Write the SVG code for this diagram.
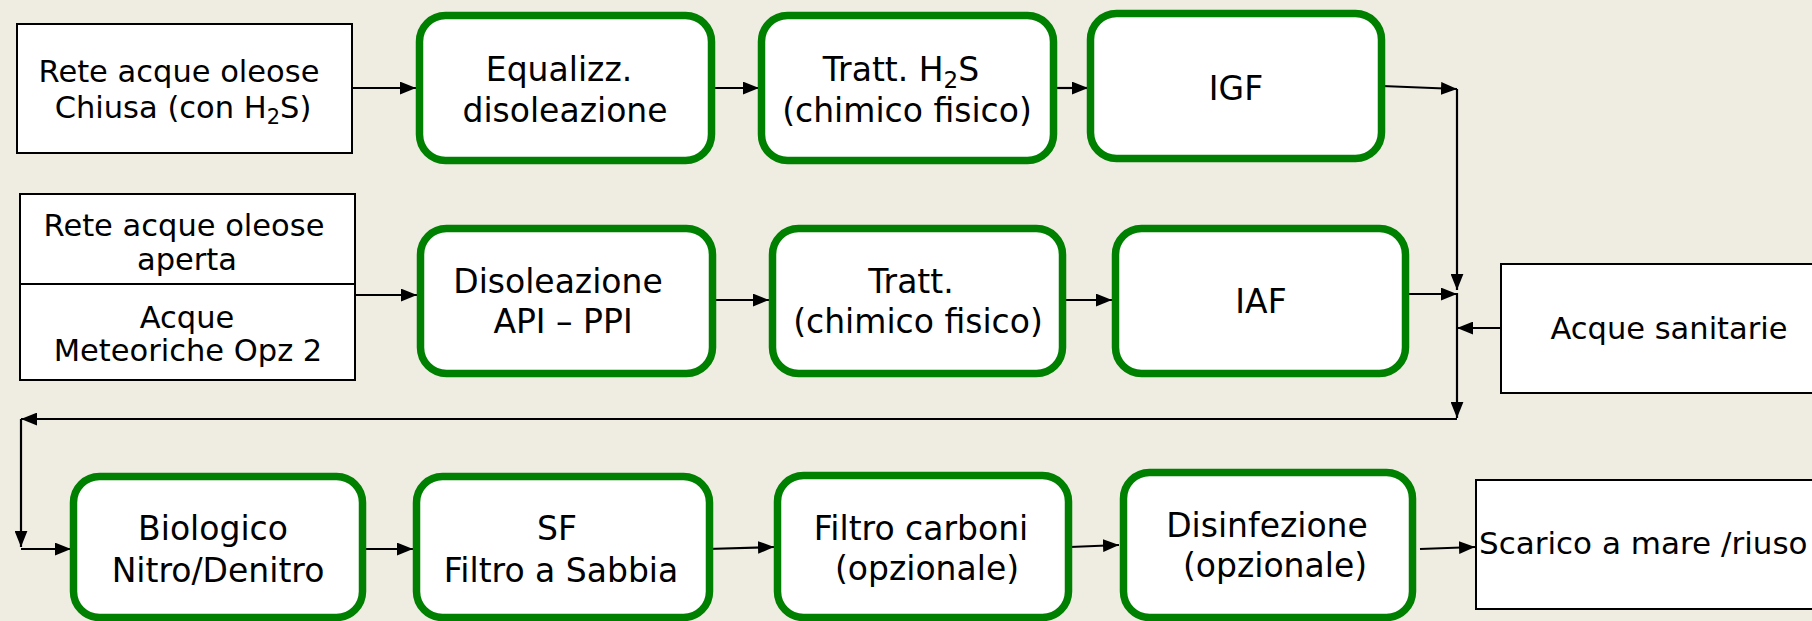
<svg xmlns="http://www.w3.org/2000/svg" width="1812" height="621" viewBox="0 0 1812 621">
  <style>
    .bg { fill: #EFEDE1; }
    .src { fill: #FFFFFF; stroke: #000000; stroke-width: 2; }
    .step { fill: #FFFFFF; stroke: #008000; stroke-width: 7.5; }
    .lbl { font-family: "DejaVu Sans", Verdana, sans-serif; fill: #000000; text-anchor: middle; }
    .s30 { font-size: 30.5px; }
    .s33 { font-size: 33px; }
    .conn { fill: none; stroke: #000000; stroke-width: 2.2; marker-end: url(#arrow); }
  </style>
  <defs>
    <marker id="arrow" viewBox="0 0 15 12" refX="15" refY="6" markerWidth="16" markerHeight="13" markerUnits="userSpaceOnUse" orient="auto">
      <path d="M0,0 L15,6 L0,12 z" fill="#000000"/>
    </marker>
  </defs>

  <rect class="bg" x="0" y="0" width="1812" height="621"/>

  <!-- connectors -->
  <g id="connectors">
    <path class="conn" d="M352,88 L416,88"/>
    <path class="conn" d="M715,88 L759,88"/>
    <path class="conn" d="M1057,88 L1088,88"/>
    <path class="conn" d="M1382,86 L1457,89"/>
    <path class="conn" d="M1457,89 L1457,290"/>
    <path class="conn" d="M355,295 L417,295"/>
    <path class="conn" d="M716,300 L769,300"/>
    <path class="conn" d="M1066,300 L1112,300"/>
    <path class="conn" d="M1399,294 L1457,294"/>
    <path class="conn" d="M1501,328 L1457,328"/>
    <path class="conn" d="M1457,293 L1457,418"/>
    <path class="conn" d="M1457,419 L21,419"/>
    <path class="conn" d="M21,419 L21,547"/>
    <path class="conn" d="M21,549 L71,549"/>
    <path class="conn" d="M366,549 L413,549"/>
    <path class="conn" d="M707,549 L774,547"/>
    <path class="conn" d="M1070,547 L1119,545"/>
    <path class="conn" d="M1420,549 L1475,547"/>
  </g>

  <!-- row 1 -->
  <g id="rete-chiusa">
    <rect class="src" x="17" y="24" width="335" height="129"/>
    <text class="lbl s30" x="179" y="82">Rete acque oleose</text>
    <text class="lbl s30" x="183" y="118">Chiusa (con H<tspan font-size="21" dy="6">2</tspan><tspan dy="-6">S)</tspan></text>
  </g>
  <g id="equalizzazione">
    <rect class="step" x="419.5" y="15.5" width="292" height="145" rx="26"/>
    <text class="lbl s33" x="559" y="81">Equalizz.</text>
    <text class="lbl s33" x="565" y="122">disoleazione</text>
  </g>
  <g id="tratt-h2s">
    <rect class="step" x="761.5" y="15.5" width="292" height="145" rx="26"/>
    <text class="lbl s33" x="901" y="81">Tratt. H<tspan font-size="23" dy="7">2</tspan><tspan dy="-7">S</tspan></text>
    <text class="lbl s33" x="907" y="122">(chimico fisico)</text>
  </g>
  <g id="igf">
    <rect class="step" x="1090.5" y="13.5" width="291" height="145" rx="26"/>
    <text class="lbl s33" x="1236" y="100">IGF</text>
  </g>

  <!-- row 2 -->
  <g id="rete-aperta">
    <rect class="src" x="20" y="194" width="335" height="186"/>
    <line x1="20" y1="284" x2="355" y2="284" stroke="#000000" stroke-width="2"/>
    <text class="lbl s30" x="184" y="236">Rete acque oleose</text>
    <text class="lbl s30" x="187" y="270">aperta</text>
    <text class="lbl s30" x="187" y="328">Acque</text>
    <text class="lbl s30" x="188" y="361">Meteoriche Opz 2</text>
  </g>
  <g id="disoleazione">
    <rect class="step" x="420.5" y="228.5" width="292" height="145" rx="26"/>
    <text class="lbl s33" x="558" y="293">Disoleazione</text>
    <text class="lbl s33" x="563" y="333">API – PPI</text>
  </g>
  <g id="tratt-cf">
    <rect class="step" x="772.5" y="228.5" width="290" height="145" rx="26"/>
    <text class="lbl s33" x="911" y="293">Tratt.</text>
    <text class="lbl s33" x="918" y="333">(chimico fisico)</text>
  </g>
  <g id="iaf">
    <rect class="step" x="1115.5" y="228.5" width="290" height="145" rx="26"/>
    <text class="lbl s33" x="1261" y="313">IAF</text>
  </g>
  <g id="acque-sanitarie">
    <rect class="src" x="1501" y="264" width="320" height="129"/>
    <text class="lbl s30" x="1669" y="339">Acque sanitarie</text>
  </g>

  <!-- row 3 -->
  <g id="biologico">
    <rect class="step" x="73.5" y="476.5" width="289" height="141" rx="26"/>
    <text class="lbl s33" x="213" y="540">Biologico</text>
    <text class="lbl s33" x="218" y="582">Nitro/Denitro</text>
  </g>
  <g id="filtro-sabbia">
    <rect class="step" x="416.5" y="476.5" width="293" height="141" rx="26"/>
    <text class="lbl s33" x="557" y="540">SF</text>
    <text class="lbl s33" x="561" y="582">Filtro a Sabbia</text>
  </g>
  <g id="filtro-carboni">
    <rect class="step" x="777.5" y="475.5" width="291" height="142" rx="26"/>
    <text class="lbl s33" x="921" y="540">Filtro carboni</text>
    <text class="lbl s33" x="927" y="580">(opzionale)</text>
  </g>
  <g id="disinfezione">
    <rect class="step" x="1123.5" y="472.5" width="289" height="145" rx="26"/>
    <text class="lbl s33" x="1267" y="537">Disinfezione</text>
    <text class="lbl s33" x="1275" y="577">(opzionale)</text>
  </g>
  <g id="scarico">
    <rect class="src" x="1476" y="480" width="345" height="129"/>
    <text class="lbl" x="1479" y="554" style="text-anchor:start;font-size:31px">Scarico a mare /riuso</text>
  </g>
</svg>
